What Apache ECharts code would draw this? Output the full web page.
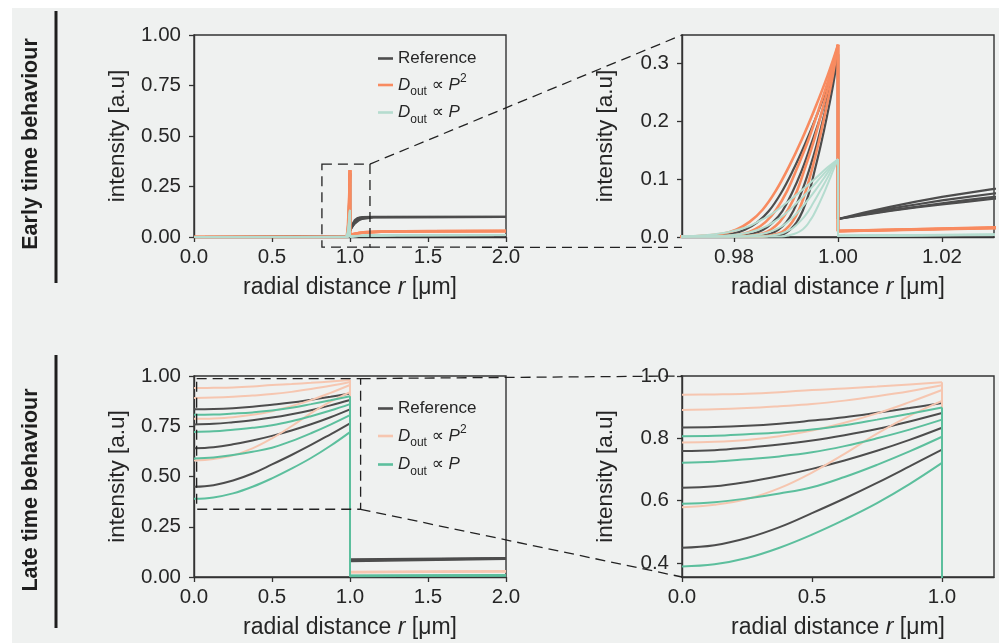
<!DOCTYPE html>
<html><head><meta charset="utf-8">
<script src="https://cdn.jsdelivr.net/npm/echarts@6/dist/echarts.min.js"></script>
<style>
html,body{margin:0;padding:0;background:#fff;}
#bg{position:absolute;left:12px;top:8px;width:987px;height:635px;background:#eff1f0;}
#c{position:absolute;left:0;top:0;width:999px;height:643px;}
</style></head><body>
<div id="bg"></div><div id="c"></div>
<script>
// ---------- tick labels ----------
const xTicksFull = [0, 0.5, 1.0, 1.5, 2.0];
const yTicksFull = [0, 0.25, 0.5, 0.75, 1.0];
const xTicksEarlyZoom = [0.98, 1.00, 1.02];
const yTicksEarlyZoom = [0, 0.1, 0.2, 0.3];
const xTicksLateZoom = [0, 0.5, 1.0];
const yTicksLateZoom = [0.4, 0.6, 0.8, 1.0];

// ---------- early time: inside the cell (r <= 1) ----------
const earlyRefInside = [
  [[0,0],[0.9724,0.0005],[0.9761,0.0019],[0.9798,0.0057],[0.9821,0.0124],[0.9844,0.0247],[0.9867,0.0447],[0.989,0.075],[0.9913,0.114],[0.9936,0.159],[0.9959,0.209],[0.9982,0.264],[1.0,0.315]],
  [[0,0],[0.9778,0.0005],[0.9808,0.0019],[0.9837,0.0057],[0.9856,0.0124],[0.9874,0.0247],[0.9893,0.0447],[0.9911,0.075],[0.993,0.114],[0.9948,0.159],[0.9967,0.209],[0.9985,0.264],[1.0,0.315]],
  [[0,0],[0.9823,0.0005],[0.9847,0.0019],[0.987,0.0057],[0.9885,0.0124],[0.99,0.0247],[0.9914,0.0447],[0.9929,0.075],[0.9944,0.114],[0.9959,0.159],[0.9973,0.209],[0.9988,0.264],[1.0,0.315]],
  [[0,0],[0.9859,0.0005],[0.9878,0.0019],[0.9897,0.0057],[0.9908,0.0124],[0.992,0.0247],[0.9932,0.0447],[0.9944,0.075],[0.9955,0.114],[0.9967,0.159],[0.9979,0.209],[0.9991,0.264],[1.0,0.315]]
];
const earlyP2Inside = [
  [[0,0],[0.970,0.0005],[0.974,0.002],[0.978,0.006],[0.9805,0.013],[0.983,0.026],[0.9855,0.047],[0.988,0.079],[0.9905,0.12],[0.993,0.167],[0.9955,0.22],[0.998,0.278],[1.0,0.331]],
  [[0,0],[0.9754,0.0005],[0.9787,0.002],[0.982,0.006],[0.984,0.013],[0.9861,0.026],[0.9881,0.047],[0.9902,0.079],[0.9922,0.12],[0.9943,0.167],[0.9963,0.22],[0.9984,0.278],[1.0,0.331]],
  [[0,0],[0.9802,0.0005],[0.9828,0.002],[0.9855,0.006],[0.9871,0.013],[0.9888,0.026],[0.9904,0.047],[0.9921,0.079],[0.9937,0.12],[0.9954,0.167],[0.997,0.22],[0.9987,0.278],[1.0,0.331]],
  [[0,0],[0.9844,0.0005],[0.9865,0.002],[0.9886,0.006],[0.9899,0.013],[0.9912,0.026],[0.9925,0.047],[0.9938,0.079],[0.9951,0.12],[0.9964,0.167],[0.9977,0.22],[0.999,0.278],[1.0,0.331]]
];
const earlyPInside = [
  [[0,0],[0.97,0.001],[0.974,0.003],[0.978,0.007],[0.981,0.013],[0.983,0.019],[0.985,0.028],[0.987,0.038],[0.99,0.058],[0.993,0.08],[0.996,0.104],[0.998,0.12],[1.0,0.134]],
  [[0,0],[0.976,0.001],[0.9792,0.003],[0.9824,0.007],[0.9848,0.013],[0.9864,0.019],[0.988,0.028],[0.9896,0.038],[0.992,0.058],[0.9944,0.08],[0.9968,0.104],[0.9984,0.12],[1.0,0.134]],
  [[0,0],[0.9811,0.001],[0.9836,0.003],[0.9861,0.007],[0.988,0.013],[0.9893,0.019],[0.9906,0.028],[0.9918,0.038],[0.9937,0.058],[0.9956,0.08],[0.9975,0.104],[0.9987,0.12],[1.0,0.134]],
  [[0,0],[0.9856,0.001],[0.9875,0.003],[0.9894,0.007],[0.9909,0.013],[0.9918,0.019],[0.9928,0.028],[0.9938,0.038],[0.9952,0.058],[0.9966,0.08],[0.9981,0.104],[0.999,0.12],[1.0,0.134]],
  [[0,0],[0.9892,0.001],[0.9906,0.003],[0.9921,0.007],[0.9932,0.013],[0.9939,0.019],[0.9946,0.028],[0.9953,0.038],[0.9964,0.058],[0.9975,0.08],[0.9986,0.104],[0.9993,0.12],[1.0,0.134]]
];
// ---------- early time: jump at r = 1 and outside (r >= 1) ----------
const earlyRefOutside = [
  [[1,0.315],[1,0.031],[1.005,0.042],[1.01,0.052],[1.015,0.061],[1.02,0.069],[1.025,0.076],[1.03,0.083],[1.04,0.089],[1.05,0.094],[1.065,0.097],[1.08,0.099],[1.15,0.1],[2,0.1]],
  [[1,0.315],[1,0.031],[1.005,0.040],[1.01,0.049],[1.015,0.056],[1.02,0.063],[1.025,0.069],[1.03,0.075],[1.04,0.082],[1.05,0.088],[1.065,0.093],[1.08,0.096],[1.15,0.099],[2,0.1]],
  [[1,0.315],[1,0.031],[1.005,0.039],[1.01,0.046],[1.015,0.052],[1.02,0.058],[1.025,0.064],[1.03,0.069],[1.04,0.077],[1.05,0.083],[1.065,0.089],[1.08,0.093],[1.15,0.098],[2,0.099]],
  [[1,0.315],[1,0.031],[1.005,0.038],[1.01,0.045],[1.015,0.051],[1.02,0.056],[1.025,0.061],[1.03,0.066],[1.04,0.073],[1.05,0.079],[1.065,0.086],[1.08,0.09],[1.15,0.097],[2,0.099]]
];
const earlyP2Outside = [
  [[1,0.331],[1,0.0105],[1.01,0.0125],[1.02,0.0145],[1.03,0.0165],[1.05,0.019],[1.1,0.024],[1.2,0.027],[1.5,0.029],[2,0.03]],
  [[1,0.331],[1,0.0103],[1.01,0.0122],[1.02,0.0141],[1.03,0.016],[1.05,0.0186],[1.1,0.0235],[1.2,0.0266],[1.5,0.0287],[2,0.0297]],
  [[1,0.331],[1,0.0101],[1.01,0.012],[1.02,0.0138],[1.03,0.0156],[1.05,0.0182],[1.1,0.023],[1.2,0.0262],[1.5,0.0284],[2,0.0294]],
  [[1,0.331],[1,0.0099],[1.01,0.0117],[1.02,0.0135],[1.03,0.0152],[1.05,0.0178],[1.1,0.0226],[1.2,0.0258],[1.5,0.028],[2,0.029]]
];
const earlyPOutside = [
  [[1,0.134],[1,0.0025],[1.03,0.0045],[1.1,0.0075],[1.3,0.0095],[2,0.0105]],
  [[1,0.134],[1,0.0023],[1.03,0.0042],[1.1,0.0072],[1.3,0.0092],[2,0.0102]],
  [[1,0.134],[1,0.0021],[1.03,0.004],[1.1,0.007],[1.3,0.009],[2,0.01]],
  [[1,0.134],[1,0.0019],[1.03,0.0038],[1.1,0.0068],[1.3,0.0088],[2,0.0098]],
  [[1,0.134],[1,0.0017],[1.03,0.0036],[1.1,0.0066],[1.3,0.0086],[2,0.0096]]
];

// ---------- late time: inside the cell ----------
const lateX = [0, 0.125, 0.25, 0.375, 0.5, 0.625, 0.75, 0.875, 1];
const lateRefInside = [
  [0.835, 0.836, 0.84, 0.847, 0.857, 0.868, 0.882, 0.897, 0.913],
  [0.759, 0.762, 0.77, 0.78, 0.793, 0.81, 0.83, 0.854, 0.881],
  [0.641, 0.646, 0.66, 0.679, 0.702, 0.729, 0.76, 0.795, 0.834],
  [0.449, 0.457, 0.48, 0.515, 0.56, 0.607, 0.657, 0.71, 0.764]
];
const lateP2Inside = [
  [0.94, 0.941, 0.943, 0.948, 0.955, 0.96, 0.966, 0.973, 0.98],
  [0.891, 0.893, 0.897, 0.903, 0.91, 0.921, 0.935, 0.951, 0.97],
  [0.787, 0.789, 0.795, 0.807, 0.825, 0.85, 0.88, 0.916, 0.955],
  [0.579, 0.587, 0.605, 0.64, 0.69, 0.75, 0.815, 0.872, 0.92]
];
const latePInside = [
  [0.807, 0.808, 0.813, 0.819, 0.828, 0.842, 0.86, 0.879, 0.899],
  [0.722, 0.725, 0.733, 0.742, 0.755, 0.775, 0.80, 0.828, 0.86],
  [0.59, 0.595, 0.607, 0.623, 0.643, 0.676, 0.715, 0.758, 0.805],
  [0.389, 0.396, 0.416, 0.449, 0.491, 0.539, 0.592, 0.653, 0.721]
];
// ---------- late time: jump at r = 1 and outside ----------
const lateRefOutside = [
  [[1,0.913],[1,0.088],[2,0.095]],
  [[1,0.881],[1,0.085],[2,0.093]],
  [[1,0.834],[1,0.082],[2,0.092]],
  [[1,0.764],[1,0.078],[2,0.09]]
];
const lateP2Outside = [
  [[1,0.98],[1,0.026],[2,0.029]],
  [[1,0.97],[1,0.025],[2,0.028]],
  [[1,0.955],[1,0.024],[2,0.028]],
  [[1,0.92],[1,0.023],[2,0.027]]
];
const latePOutside = [
  [[1,0.899],[1,0.007],[2,0.009]],
  [[1,0.86],[1,0.006],[2,0.0085]],
  [[1,0.805],[1,0.005],[2,0.008]],
  [[1,0.721],[1,0.004],[2,0.0075]]
];

// zoom boxes drawn on the full-range panels (data coordinates)
const earlyBoxX = [0.82, 1.128], earlyBoxY = [-0.05, 0.361];
const lateBoxX = [0.017, 1.068], lateBoxY = [0.337, 0.987];

// ---------- styling ----------
const FONT = "'Liberation Sans', 'DejaVu Sans', Arial, sans-serif";
const INK = '#262626';
const C_REF = '#4d4d4d', C_P2 = '#f88b60', C_P2_LIGHT = '#f6c6b0', C_P = '#5cbf9d', C_P_LIGHT = '#b5dccf';

const chart = echarts.init(document.getElementById('c'), null, {renderer: 'canvas'});

const gridBox = [
  {left: 194, top: 35, width: 312, height: 202},
  {left: 682, top: 35, width: 312, height: 202},
  {left: 194, top: 376, width: 312, height: 201},
  {left: 682, top: 376, width: 312, height: 201}
];
const grids = gridBox.map(g => Object.assign({show: true, borderColor: '#333', borderWidth: 1.4, backgroundColor: 'rgba(0,0,0,0)'}, g));

function axisCommon(ticks, dec, margin) {
  return {
    axisLine: {show: true, onZero: false, lineStyle: {color: '#333', width: 1.4}},
    axisTick: {show: true, customValues: ticks, length: 5, lineStyle: {color: '#333', width: 1.3}},
    axisLabel: {customValues: ticks, formatter: v => v.toFixed(dec), fontSize: 20.5, color: INK, fontFamily: FONT, margin},
    splitLine: {show: false}
  };
}
const nameRich = {
  t: {fontSize: 23, fontFamily: FONT, color: INK},
  i: {fontSize: 23, fontFamily: FONT, color: INK, fontStyle: 'italic'}
};
function xAx(gi, min, max, ticks, dec) {
  return Object.assign({type: 'value', gridIndex: gi, min, max,
    name: '{t|radial distance }{i|r}{t| [μm]}', nameLocation: 'middle', nameGap: 39,
    nameTextStyle: {rich: nameRich}}, axisCommon(ticks, dec, 10));
}
function yAx(gi, min, max, ticks, dec) {
  return Object.assign({type: 'value', gridIndex: gi, min, max,
    name: 'intensity [a.u]', nameLocation: 'middle', nameGap: 65,
    nameTextStyle: {fontSize: 22.5, fontFamily: FONT, color: INK}}, axisCommon(ticks, dec, 13));
}

const series = [];
function add(name, curves, gi, color, width, smooth) {
  curves.forEach(d => series.push({
    type: 'line', name, data: d, xAxisIndex: gi, yAxisIndex: gi,
    symbol: 'none', showSymbol: false, smooth, lineStyle: {color, width}, itemStyle: {color},
    silent: true, animation: false
  }));
}
const pairs = ys => ys.map((y, i) => [lateX[i], y]);
[0, 1].forEach(gi => {
  add('ref_e', earlyRefInside, gi, C_REF, 2.2, 0.4);
  add('ref_e', earlyRefOutside, gi, C_REF, 2.2, 0);
  add('p2_e', earlyP2Inside, gi, C_P2, 2.6, 0.4);
  add('p2_e', earlyP2Outside, gi, C_P2, 2.6, 0);
  add('p_e', earlyPInside, gi, C_P_LIGHT, 2, 0.4);
  add('p_e', earlyPOutside, gi, C_P_LIGHT, 2, 0);
});
[2, 3].forEach(gi => {
  add('ref_l', lateRefInside.map(pairs), gi, C_REF, 2, 0.4);
  add('ref_l', lateRefOutside, gi, C_REF, 2, 0);
  add('p2_l', lateP2Inside.map(pairs), gi, C_P2_LIGHT, 2, 0.4);
  add('p2_l', lateP2Outside, gi, C_P2_LIGHT, 2, 0);
  add('p_l', latePInside.map(pairs), gi, C_P, 2, 0.4);
  add('p_l', latePOutside, gi, C_P, 2, 0);
});

const legendText = {
  ref_e: '{t|Reference}', ref_l: '{t|Reference}',
  p2_e: '{i|D}{s|out}{t| ∝ }{i|P}{u|2}', p2_l: '{i|D}{s|out}{t| ∝ }{i|P}{u|2}',
  p_e: '{i|D}{s|out}{t| ∝ }{i|P}', p_l: '{i|D}{s|out}{t| ∝ }{i|P}'
};
const legRich = {
  t: {fontSize: 17, fontFamily: FONT, color: INK, lineHeight: 20},
  i: {fontSize: 17, fontFamily: FONT, color: INK, fontStyle: 'italic', lineHeight: 20},
  s: {fontSize: 12, fontFamily: FONT, color: INK, lineHeight: 11, verticalAlign: 'bottom', padding: [0, 0, -3, 0]},
  u: {fontSize: 12, fontFamily: FONT, color: INK, lineHeight: 11, verticalAlign: 'top', padding: [-2, 0, 0, 0]}
};
const legendColors = {ref_e: C_REF, p2_e: C_P2, p_e: C_P_LIGHT, ref_l: C_REF, p2_l: C_P2_LIGHT, p_l: C_P};
function legend(names, top, gap) {
  return {data: names.map(n => ({name: n, icon: 'rect', itemStyle: {color: legendColors[n]}})),
    left: 378, top, orient: 'vertical', itemWidth: 15, itemHeight: 2.6, itemGap: gap,
    selectedMode: false, formatter: n => legendText[n], textStyle: {rich: legRich, fontFamily: FONT}, padding: 0};
}

chart.setOption({
  animation: false,
  grid: grids,
  xAxis: [xAx(0, 0, 2, xTicksFull, 1), xAx(1, 0.97, 1.03, xTicksEarlyZoom, 2), xAx(2, 0, 2, xTicksFull, 1), xAx(3, 0, 1.2, xTicksLateZoom, 1)],
  yAxis: [yAx(0, 0, 1, yTicksFull, 2), yAx(1, 0, 0.348, yTicksEarlyZoom, 1), yAx(2, 0, 1, yTicksFull, 2), yAx(3, 0.355, 1.0, yTicksLateZoom, 1)],
  legend: [legend(['ref_e', 'p2_e', 'p_e'], 50, 6), legend(['ref_l', 'p2_l', 'p_l'], 400, 7)],
  series
});

// zoom indicators and connectors, placed through the axes' own scales
const px = (g, pt) => chart.convertToPixel({gridIndex: g}, pt);
const dash = {stroke: '#222', lineWidth: 1.3, lineDash: [10, 6], fill: null};
function boxAndLines(g, bx, by, gz, zTop, zBot) {
  const a = px(g, [bx[0], by[1]]), b = px(g, [bx[1], by[0]]);
  const c1 = px(g, [bx[1], by[1]]), c2 = px(g, [bx[1], by[0]]);
  const t1 = px(gz, zTop), t2 = px(gz, zBot);
  return [
    {type: 'rect', shape: {x: a[0], y: a[1], width: b[0] - a[0], height: b[1] - a[1]}, style: dash, z: 50, silent: true},
    {type: 'line', shape: {x1: c1[0], y1: c1[1], x2: t1[0], y2: t1[1]}, style: dash, z: 50, silent: true},
    {type: 'line', shape: {x1: c2[0], y1: c2[1], x2: t2[0], y2: t2[1]}, style: dash, z: 50, silent: true}
  ];
}
const gfx = [].concat(
  boxAndLines(0, earlyBoxX, earlyBoxY, 1, [0.97, 0.348], [0.97, -0.018]),
  boxAndLines(2, lateBoxX, lateBoxY, 3, [0, 1.0], [0, 0.355]),
  [
    {type: 'line', shape: {x1: 56, y1: 11, x2: 56, y2: 283}, style: {stroke: '#1e1e1e', lineWidth: 3}, silent: true},
    {type: 'line', shape: {x1: 56, y1: 355, x2: 56, y2: 628}, style: {stroke: '#1e1e1e', lineWidth: 3}, silent: true},
    {type: 'text', x: 31, y: 144, rotation: Math.PI / 2, silent: true,
      style: {text: 'Early time behaviour', font: "bold 21.5px 'Liberation Sans', Arial, sans-serif", fill: '#1e1e1e', align: 'center', verticalAlign: 'middle'}},
    {type: 'text', x: 31, y: 490, rotation: Math.PI / 2, silent: true,
      style: {text: 'Late time behaviour', font: "bold 21.5px 'Liberation Sans', Arial, sans-serif", fill: '#1e1e1e', align: 'center', verticalAlign: 'middle'}}
  ]
);
chart.setOption({graphic: gfx});
</script>
</body></html>
